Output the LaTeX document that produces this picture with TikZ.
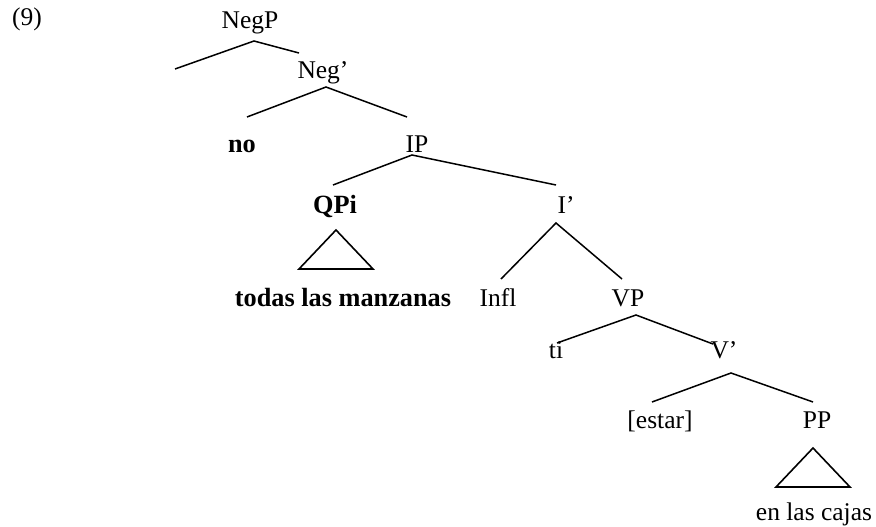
\documentclass[tikz,border=0pt]{standalone}
\usepackage{fontspec}
\setmainfont{Liberation Serif}
\begin{document}
\begin{tikzpicture}[x=1pt,y=-1pt,
  lbl/.style={anchor=base,inner sep=0pt,font=\fontsize{25.5}{30}\selectfont},
  blbl/.style={lbl,font=\fontsize{26.3}{30}\selectfont\bfseries},
  edge/.style={line width=1.5pt,line join=miter},
  tri/.style={line width=1.6pt,line join=miter}]
\useasboundingbox (0,0) rectangle (876,527);
% labels
\node[lbl] (nine) at (27,26) {(9)};
\node[lbl] (negp) at (250,29) {NegP};
\node[lbl] (negbar) at (323,78) {Neg’};
\node[blbl] (no) at (242,152) {no};
\node[lbl] (ip) at (417,152) {IP};
\node[blbl] (qpi) at (335,213) {QPi};
\node[lbl] (ibar) at (566,213) {I’};
\node[blbl] (todas) at (343,306) {todas las manzanas};
\node[lbl] (infl) at (498,306) {Infl};
\node[lbl] (vp) at (628,306) {VP};
\node[lbl] (ti) at (556,358) {ti};
\node[lbl] (vbar) at (724,358) {V’};
\node[lbl] (estar) at (660,428) {[estar]};
\node[lbl] (pp) at (817,428) {PP};
\node[lbl] (cajas) at (814,520) {en las cajas};
% attachment points
\coordinate (negp-a) at (254,41);
\coordinate (negp-l) at (175,69);
\coordinate (negbar-t) at (299,53);
\coordinate (negbar-a) at (326,87);
\coordinate (no-t) at (247,117);
\coordinate (ip-t) at (407,117);
\coordinate (ip-a) at (412,155);
\coordinate (qpi-t) at (333,185);
\coordinate (ibar-t) at (556,185);
\coordinate (qpi-a) at (336,230);
\coordinate (qpi-bl) at (299,269);
\coordinate (qpi-br) at (373,269);
\coordinate (ibar-a) at (556,223);
\coordinate (infl-t) at (501,279);
\coordinate (vp-t) at (622,279);
\coordinate (vp-a) at (636,315);
\coordinate (ti-t) at (557,343);
\coordinate (vbar-t) at (713,344);
\coordinate (vbar-a) at (731,373);
\coordinate (estar-t) at (652,402);
\coordinate (pp-t) at (813,402);
\coordinate (pp-a) at (813,448);
\coordinate (pp-bl) at (776,487);
\coordinate (pp-br) at (850,487);
% branches
\draw[edge] (negp-l) -- (negp-a) -- (negbar-t);
\draw[edge] (no-t) -- (negbar-a) -- (ip-t);
\draw[edge] (qpi-t) -- (ip-a) -- (ibar-t);
\draw[edge] (infl-t) -- (ibar-a) -- (vp-t);
\draw[edge] (ti-t) -- (vp-a) -- (vbar-t);
\draw[edge] (estar-t) -- (vbar-a) -- (pp-t);
\draw[tri] (qpi-a) -- (qpi-bl) -- (qpi-br) -- cycle;
\draw[tri] (pp-a) -- (pp-bl) -- (pp-br) -- cycle;
\end{tikzpicture}
\end{document}
